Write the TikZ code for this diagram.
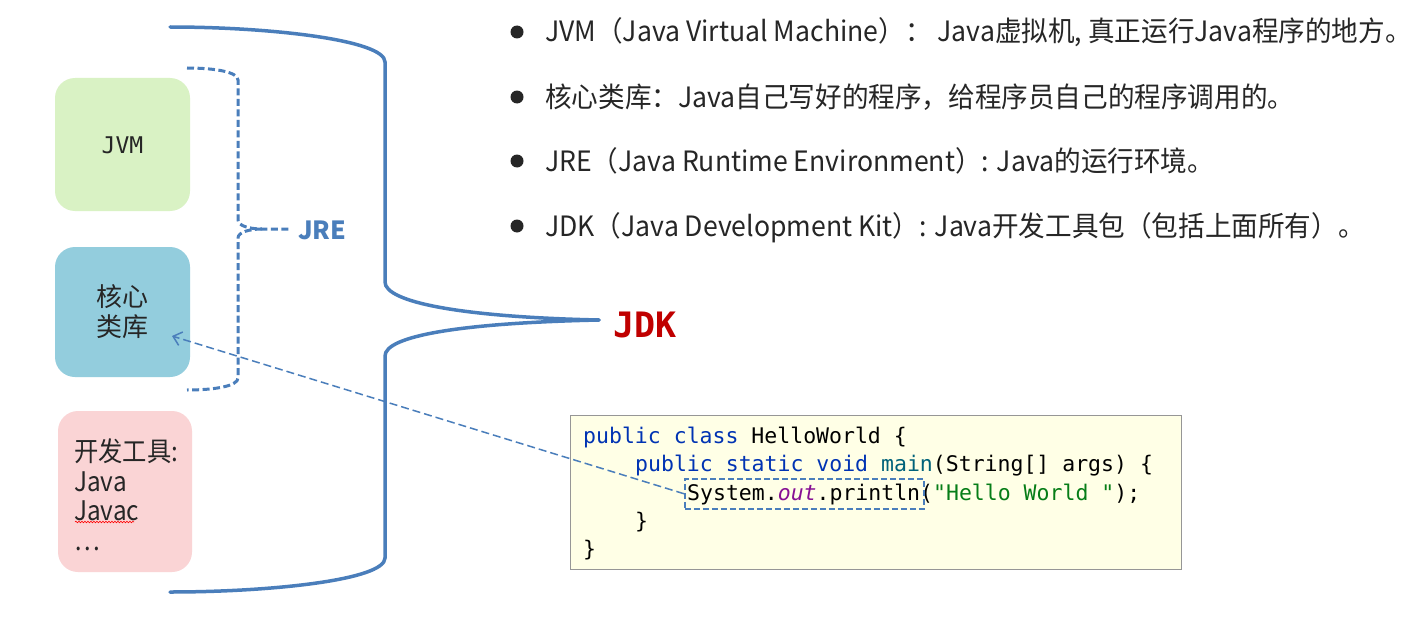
\documentclass[tikz,border=0pt]{standalone}
\usepackage{fontspec}
\setmainfont{Noto Sans CJK SC}
\newfontfamily\cjknarrow[FakeStretch=0.95]{Noto Sans CJK SC}
\newfontfamily\cjktool[FakeStretch=0.9]{Noto Sans CJK SC}
\setmonofont{DejaVu Sans Mono}
\usetikzlibrary{arrows.meta,decorations.pathmorphing}
\definecolor{bracecol}{RGB}{74,126,187}
\definecolor{jvmfill}{RGB}{217,242,196}
\definecolor{corefill}{RGB}{147,205,221}
\definecolor{toolfill}{RGB}{250,212,213}
\definecolor{codebg}{RGB}{255,255,230}
\definecolor{codeborder}{RGB}{150,150,150}
\definecolor{kwcol}{RGB}{0,51,179}
\definecolor{fncol}{RGB}{0,98,122}
\definecolor{strcol}{RGB}{6,125,23}
\definecolor{outcol}{RGB}{135,16,148}
\definecolor{jdkred}{RGB}{192,0,0}
\definecolor{txtcol}{RGB}{38,38,38}
\tikzset{
  compbox/.style={rounded corners=20pt, draw=none, minimum width=135pt, inner sep=0pt},
  jdkbrace/.style={draw=bracecol, line width=3.5pt},
  jrebrace/.style={draw=bracecol, line width=3pt, dash pattern=on 7pt off 3.5pt},
  bullettext/.style={anchor=base west, font=\cjknarrow\fontsize{28}{32}\selectfont, text=txtcol, inner sep=0pt},
  bulletdot/.style={fill=txtcol, draw=none, circle, minimum size=13pt, inner sep=0pt},
  codeline/.style={anchor=base west, font=\ttfamily\fontsize{21.5}{26}\selectfont, inner sep=0pt},
}
\begin{document}
\begin{tikzpicture}[x=1pt,y=-1pt]
\useasboundingbox (0,0) rectangle (1416,618);
\fill[white] (0,0) rectangle (1416,618);

% component boxes
\node[compbox, fill=jvmfill, minimum height=133pt] (jvm) at (122.5,144.5) {};
\node[font=\ttfamily\fontsize{23}{27}\selectfont, text=txtcol] (jvmtxt) at (122.5,145) {JVM};
\node[compbox, fill=corefill, minimum height=130pt] (core) at (122.5,312) {};
\node[font=\fontsize{26}{31}\selectfont, text=txtcol, align=center] (coretxt) at (122.5,312) {核心\\[-1pt]类库};
\node[compbox, fill=toolfill, minimum width=134pt, minimum height=161pt] (tools) at (125,491.5) {};
\node[font=\cjktool\fontsize{27}{29.5}\selectfont, text=txtcol, align=left, anchor=north west, inner sep=0pt] (toolstxt) at (74,439) {开发工具:\\Java\\Javac\\…};
\coordinate (wavyA) at (75,522);
\coordinate (wavyB) at (134,522);
\draw[red, line width=0.6pt, decorate, decoration={snake, amplitude=0.8pt, segment length=3pt}] (wavyA) -- (wavyB);

% JRE dashed brace
\coordinate (jreT) at (187,68);
\coordinate (jreB) at (187,390);
\coordinate (jreTip) at (290,229);
\draw[jrebrace] (jreT) .. controls (215,68) and (238,72) .. (238,80) -- (238,220) .. controls (238,226) and (250,229) .. (262,229) -- (jreTip);
\draw[jrebrace] (262,229) .. controls (250,229) and (238,232) .. (238,238) -- (238,378) .. controls (238,386) and (215,390) .. (jreB);
\node[font=\bfseries\fontsize{25}{30}\selectfont, text=bracecol, anchor=west, inner sep=0pt] (jre) at (298,230) {JRE};

% JDK brace
\coordinate (jdkT) at (170,27);
\coordinate (jdkB) at (170,592);
\coordinate (jdkTip) at (599,320);
\draw[jdkbrace, line cap=round] (jdkT) .. controls (270,27) and (385,40) .. (385,62) -- (385,282) .. controls (385,302) and (460,317) .. (jdkTip);
\draw[jdkbrace, line cap=round] (jdkTip) .. controls (460,323) and (385,336) .. (385,356) -- (385,558) .. controls (385,580) and (270,592) .. (jdkB);
\node[font=\ttfamily\bfseries\fontsize{35}{40}\selectfont, text=jdkred, anchor=west, inner sep=0pt] (jdk) at (613,325) {JDK};

% bullets
\foreach \y/\t in {32/{JVM（Java Virtual Machine）： Java虚拟机, 真正运行Java程序的地方。},
                   97/{核心类库：Java自己写好的程序，给程序员自己的程序调用的。},
                   161/{JRE（Java Runtime Environment）: Java的运行环境。},
                   226/{JDK（Java Development Kit）: Java开发工具包（包括上面所有）。}}{
  \node[bulletdot] at (517,\y) {};
  \node[bullettext] at (545,\y+10) {\t};
}

% code box
\node[draw=codeborder, fill=codebg, line width=1pt, minimum width=611pt, minimum height=154pt, anchor=north west, inner sep=0pt] (code) at (570,415) {};
\node[codeline] (c1) at (583,443) {\textcolor{kwcol}{public class} HelloWorld \{};
\node[codeline] (c2) at (635,471) {\textcolor{kwcol}{public static void} \textcolor{fncol}{main}(String[] args) \{};
\node[codeline] (c3) at (687,500) {System.\textcolor{outcol}{\itshape out}.println(\textcolor{strcol}{"Hello World "});};
\node[codeline] (c4) at (635,528) {\}};
\node[codeline] (c5) at (583,556) {\}};
\node[draw=bracecol, line width=1.5pt, dash pattern=on 6pt off 3pt, minimum width=239pt, minimum height=30pt, anchor=north west, inner sep=0pt] (sys) at (684,478) {};

% dashed arrow
\coordinate (coreref) at (172,336);
\draw[draw=bracecol, line width=1.5pt, dash pattern=on 8pt off 4pt, -{Straight Barb[length=8pt, width=14pt, line width=1.5pt]}] (sys.west) -- (coreref);
\end{tikzpicture}
\end{document}
